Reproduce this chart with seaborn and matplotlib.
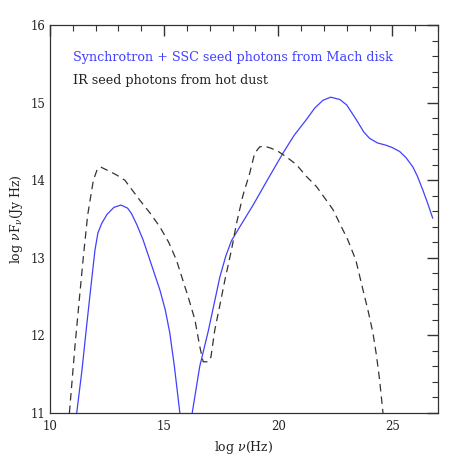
import matplotlib
matplotlib.use("Agg")
import matplotlib.pyplot as plt
from matplotlib.ticker import MultipleLocator
import seaborn as sns
import pandas as pd

# Synchrotron + SSC (blue, solid) - low-frequency hump
blue1_x = [11.17, 11.4, 11.6, 11.8, 11.97, 12.1, 12.26, 12.5, 12.8, 13.11, 13.4, 13.57, 13.8, 14.08, 14.4, 14.81, 15.05, 15.25, 15.45, 15.69]
blue1_y = [11.0, 11.55, 12.11, 12.65, 13.1, 13.32, 13.44, 13.56, 13.65, 13.68, 13.64, 13.57, 13.43, 13.23, 12.95, 12.59, 12.33, 12.03, 11.6, 11.0]
# Synchrotron + SSC (blue, solid) - high-frequency hump
blue2_x = [16.23, 16.56, 16.93, 17.2, 17.44, 17.7, 17.95, 18.4, 18.9, 19.5, 20.21, 20.7, 21.23, 21.6, 21.96, 22.3, 22.7, 23.0, 23.42, 23.75, 24.0, 24.35, 24.73, 25.0, 25.32, 25.6, 25.9, 26.1, 26.34, 26.55, 26.77]
blue2_y = [11.0, 11.6, 12.05, 12.42, 12.75, 13.02, 13.22, 13.44, 13.68, 13.99, 14.35, 14.58, 14.78, 14.93, 15.03, 15.07, 15.04, 14.97, 14.78, 14.62, 14.54, 14.48, 14.45, 14.42, 14.37, 14.29, 14.17, 14.05, 13.87, 13.7, 13.51]
# IR seed photons from hot dust (black, dashed)
dash_x = [10.85, 11.09, 11.28, 11.46, 11.65, 11.9, 12.07, 12.22, 12.5, 12.9, 13.28, 13.94, 14.4, 14.81, 15.2, 15.54, 16.05, 16.35, 16.56, 16.71, 16.93, 17.05, 17.22, 17.45, 17.66, 17.95, 18.17, 18.45, 18.75, 18.97, 19.19, 19.4, 19.7, 20.0, 20.36, 20.8, 21.23, 21.67, 22.11, 22.4, 23.05, 23.4, 23.71, 23.95, 24.15, 24.3, 24.44, 24.59]
dash_y = [11.0, 11.85, 12.45, 13.01, 13.55, 14.0, 14.14, 14.17, 14.13, 14.07, 14.0, 13.74, 13.57, 13.4, 13.2, 12.97, 12.5, 12.2, 11.86, 11.66, 11.66, 11.72, 12.07, 12.4, 12.71, 13.1, 13.44, 13.8, 14.09, 14.35, 14.43, 14.44, 14.41, 14.37, 14.3, 14.2, 14.05, 13.92, 13.74, 13.62, 13.23, 12.97, 12.59, 12.3, 12.03, 11.75, 11.43, 11.0]

labels = ["Synchrotron + SSC seed photons from Mach disk", "IR seed photons from hot dust"]

sns.set_style("white")
plt.rcParams['font.family'] = ['DejaVu Serif', 'DejaVu Sans']
plt.rcParams['mathtext.fontset'] = 'dejavuserif'

fig = plt.figure(figsize=(4.63, 4.63), dpi=100)
ax = fig.add_axes([50/463, 50/463, 388/463, 388/463])

blue = "#4040ff"
sns.lineplot(data=pd.DataFrame({"x": blue1_x, "y": blue1_y}), x="x", y="y", sort=False,
             ax=ax, color=blue, lw=0.9)
sns.lineplot(data=pd.DataFrame({"x": blue2_x, "y": blue2_y}), x="x", y="y", sort=False,
             ax=ax, color=blue, lw=0.9)
sns.lineplot(data=pd.DataFrame({"x": dash_x, "y": dash_y}), x="x", y="y", sort=False,
             ax=ax, color="#333333", lw=0.9, linestyle=(0, (6, 4)))

ax.set_xlim(10, 27)
ax.set_ylim(11, 16)
ax.xaxis.set_major_locator(MultipleLocator(5))
ax.xaxis.set_minor_locator(MultipleLocator(1))
ax.yaxis.set_major_locator(MultipleLocator(1))
ax.yaxis.set_minor_locator(MultipleLocator(0.2))
ax.tick_params(which="both", direction="in", top=True, right=True, color="#333333",
               labelsize=8.5, labelcolor="#222222")
ax.tick_params(which="major", length=8, width=1.0)
ax.tick_params(which="minor", length=4, width=0.8)
ax.tick_params(axis="x", which="major", pad=5)
for s in ax.spines.values():
    s.set_color("#333333")
    s.set_linewidth(0.9)

ax.set_xlabel(r"log $\nu$(Hz)", fontsize=9, color="#222222", labelpad=4)
ax.set_ylabel(r"log $\nu$F$_\nu$(Jy Hz)", fontsize=9, color="#222222", labelpad=4)

ax.text(0.059, 0.917, labels[0], transform=ax.transAxes, color=blue, fontsize=9.2,
        va="center", ha="left")
ax.text(0.059, 0.856, labels[1], transform=ax.transAxes, color="#222222", fontsize=9.2,
        va="center", ha="left")

fig.savefig("out.png", dpi=100)
